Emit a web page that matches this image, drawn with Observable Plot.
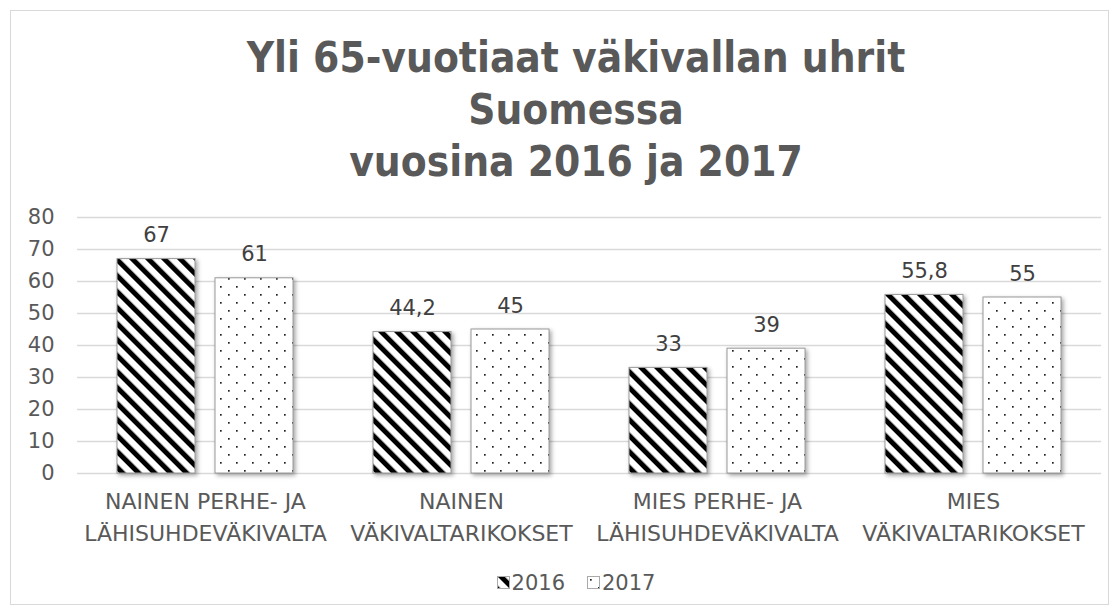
<!DOCTYPE html>
<html>
<head>
<meta charset="utf-8">
<script src="https://cdn.jsdelivr.net/npm/d3@7"></script>
<script src="https://cdn.jsdelivr.net/npm/@observablehq/plot@0.6"></script>
<style>
  html, body { margin: 0; padding: 0; background: #fff; }
  body { position: relative; width: 1119px; height: 615px; overflow: hidden; font-family: "DejaVu Sans", sans-serif; color: #595959; }
  #frame { position: absolute; left: 10px; top: 10px; width: 1099px; height: 595px; border: 1px solid #d9d9d9; box-sizing: border-box; }
  #title { position: absolute; left: 26px; width: 1100px; top: 32px; text-align: center;
           font-family: "DejaVu Sans Condensed", "DejaVu Sans", sans-serif; font-stretch: condensed;
           font-weight: bold; font-size: 42px; line-height: 52px; color: #595959; }
  #chart { position: absolute; left: 0; top: 195px; }
  #legend { position: absolute; left: 26px; width: 1100px; top: 569px; text-align: center; font-size: 21px; line-height: 26px; color: #595959; }
  #legend span.item { display: inline-flex; align-items: center; margin: 0 11px; }
  #legend svg { margin-right: 2px; }
  g[aria-label="bar"] rect { filter: drop-shadow(2px 2px 2px rgba(0,0,0,0.35)); }
</style>
</head>
<body>
<div id="frame"></div>
<div id="title"></div>
<div id="chart"></div>
<div id="legend"></div>
<script>
// ---- data ----
const titleLines = ["Yli 65-vuotiaat väkivallan uhrit", "Suomessa", "vuosina 2016 ja 2017"];
const categories = [
  "NAINEN PERHE- JA\nLÄHISUHDEVÄKIVALTA",
  "NAINEN\nVÄKIVALTARIKOKSET",
  "MIES PERHE- JA\nLÄHISUHDEVÄKIVALTA",
  "MIES\nVÄKIVALTARIKOKSET"
];
const series = ["2016", "2017"];
const values2016 = [67, 44.2, 33, 55.8];
const values2017 = [61, 45, 39, 55];
const yTicks = [0, 10, 20, 30, 40, 50, 60, 70, 80];

// ---- build table ----
const rows = [];
categories.forEach((c, i) => {
  rows.push({cat: c, year: series[0], value: values2016[i]});
  rows.push({cat: c, year: series[1], value: values2017[i]});
});
const fmt = v => String(v).replace(".", ",");

// title
document.getElementById("title").innerHTML = titleLines.map(t => `<div>${t}</div>`).join("");

const chart = Plot.plot({
  width: 1119,
  height: 360,
  marginLeft: 76,
  marginRight: 18,
  marginTop: 22,
  marginBottom: 82,
  style: {fontFamily: "DejaVu Sans", fontSize: "21px", color: "#595959", background: "transparent", overflow: "visible"},
  fx: {domain: categories, padding: 0, axis: null, label: null},
  x: {domain: series, paddingInner: 0.2, paddingOuter: 0.4, axis: null},
  y: {domain: [0, 80], ticks: yTicks, tickSize: 0, tickPadding: 23, label: null},
  marks: [
    Plot.ruleY(yTicks, {stroke: "#d9d9d9", strokeWidth: 1.3}),
    Plot.barY(rows.filter(d => d.year === series[0]), {fx: "cat", x: "year", y: "value", fill: "url(#p2016)", stroke: "#9a9a9a", strokeWidth: 1}),
    Plot.barY(rows.filter(d => d.year === series[1]), {fx: "cat", x: "year", y: "value", fill: "url(#p2017)", stroke: "#9a9a9a", strokeWidth: 1}),
    Plot.text(rows, {fx: "cat", x: "year", y: "value", text: d => fmt(d.value), lineAnchor: "bottom", dy: -17, fill: "#404040", fontSize: 21}),
    Plot.text(categories, {fx: d => d, text: d => d, frameAnchor: "bottom", lineAnchor: "top", dy: 13, lineHeight: 1.45, fontSize: 22, fill: "#595959"})
  ]
});

// patterns
const defs = d3.select(chart).insert("defs", ":first-child");
const p1 = defs.append("pattern").attr("id", "p2016").attr("patternUnits", "userSpaceOnUse")
  .attr("width", 11.3).attr("height", 11.3).attr("patternTransform", "rotate(-45)");
p1.append("rect").attr("width", 11.3).attr("height", 11.3).attr("fill", "#fff");
p1.append("rect").attr("width", 5).attr("height", 11.3).attr("fill", "#000");
const p2 = defs.append("pattern").attr("id", "p2017").attr("patternUnits", "userSpaceOnUse")
  .attr("width", 16).attr("height", 16);
p2.append("rect").attr("width", 16).attr("height", 16).attr("fill", "#fff");
p2.append("rect").attr("x", 3).attr("y", 3).attr("width", 1.7).attr("height", 1.7).attr("fill", "#222");
p2.append("rect").attr("x", 11).attr("y", 11).attr("width", 1.7).attr("height", 1.7).attr("fill", "#222");

document.getElementById("chart").appendChild(chart);

// legend
const legend = d3.select("#legend");
series.forEach((s, i) => {
  const item = legend.append("span").attr("class", "item");
  const sw = item.append("svg").attr("width", 13).attr("height", 13);
  sw.append("rect").attr("x", 0.5).attr("y", 0.5).attr("width", 12).attr("height", 12)
    .attr("fill", i === 0 ? "url(#p2016)" : "url(#p2017)").attr("stroke", "#aaa");
  item.append("span").text(s);
});
</script>
</body>
</html>
